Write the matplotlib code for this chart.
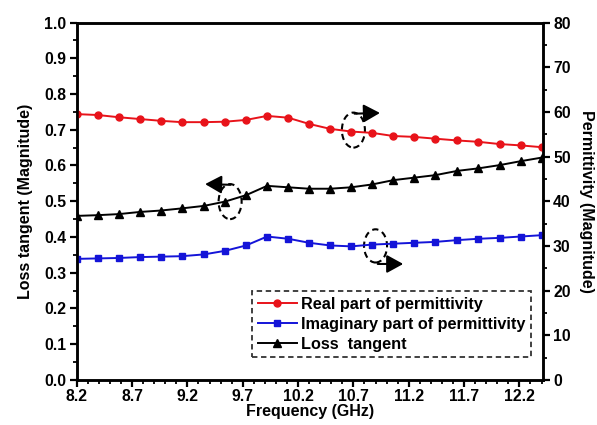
import matplotlib
matplotlib.use("Agg")
import matplotlib.pyplot as plt
from matplotlib.patches import Ellipse
from matplotlib.ticker import MultipleLocator

plt.rcParams['font.family'] = ['Liberation Sans', 'DejaVu Sans']
plt.rcParams['font.weight'] = 'bold'

# X-band sweep, 23 frequency points
freq = [8.20, 8.39, 8.58, 8.77, 8.96, 9.15, 9.35, 9.54, 9.73, 9.92, 10.11, 10.30,
        10.49, 10.68, 10.87, 11.06, 11.25, 11.44, 11.64, 11.83, 12.02, 12.21, 12.40]
real_perm = [59.5, 59.3, 58.8, 58.4, 58.0, 57.7, 57.7, 57.8, 58.2, 59.1, 58.7, 57.3,
             56.2, 55.6, 55.3, 54.6, 54.4, 54.0, 53.6, 53.3, 52.8, 52.5, 52.1]
imag_perm = [27.1, 27.2, 27.3, 27.5, 27.6, 27.7, 28.1, 28.9, 30.1, 32.1, 31.6, 30.7,
             30.1, 29.9, 30.3, 30.5, 30.7, 30.9, 31.3, 31.6, 31.8, 32.1, 32.4]
loss_tan = [0.459, 0.461, 0.464, 0.470, 0.474, 0.480, 0.487, 0.499, 0.517, 0.543, 0.539, 0.535,
            0.535, 0.539, 0.547, 0.559, 0.566, 0.573, 0.585, 0.592, 0.601, 0.612, 0.622]
xticks = [8.2, 8.7, 9.2, 9.7, 10.2, 10.7, 11.2, 11.7, 12.2]

fig = plt.figure(figsize=(5.97, 4.25), dpi=100)
ax = fig.add_axes([0.1285, 0.106, 0.7805, 0.841])
ax2 = ax.twinx()

l3, = ax.plot(freq, loss_tan, '-^', color='black', lw=1.4, ms=5.5, label='Loss  tangent')
l1, = ax2.plot(freq, real_perm, '-o', color='#e8131a', lw=1.4, ms=5, label='Real part of permittivity')
l2, = ax2.plot(freq, imag_perm, '-s', color='#1414d8', lw=1.4, ms=4.5,
               label='Imaginary part of permittivity')

ax.set_xlim(8.2, 12.41)
ax.set_ylim(0, 1.0)
ax2.set_ylim(0, 80)
ax.set_xticks(xticks)
ax.set_xticklabels([f'{v:.1f}' for v in xticks])
ax.xaxis.set_minor_locator(MultipleLocator(0.1))
ax.yaxis.set_major_locator(MultipleLocator(0.1))
ax.yaxis.set_minor_locator(MultipleLocator(0.05))
ax2.yaxis.set_major_locator(MultipleLocator(10))
ax2.yaxis.set_minor_locator(MultipleLocator(5))

for a in (ax, ax2):
    for s in a.spines.values():
        s.set_linewidth(1.8)
    a.tick_params(which='major', direction='out', length=5, width=1.6, labelsize=11.3, pad=2.5)
    a.tick_params(which='minor', direction='out', length=3, width=1.3)
ax.tick_params(axis='x', pad=1.5)

ax.set_xlabel('Frequency (GHz)', fontsize=11.5, fontweight='bold', labelpad=0)
ax.set_ylabel('Loss tangent (Magnitude)', fontsize=11.5, fontweight='bold', labelpad=8)
ax2.set_ylabel('Permittivity (Magnitude)', fontsize=11.5, fontweight='bold',
               rotation=270, labelpad=17)

# dashed ellipses with arrows marking which axis each curve belongs to
ell_kw = dict(fill=False, ls=(0, (3, 2)), lw=1.5, ec='black', zorder=5)
ax.add_patch(Ellipse((9.586, 0.499), 0.208, 0.098, **ell_kw))
ax.add_patch(Ellipse((10.70, 0.699), 0.208, 0.098, **ell_kw))
ax.add_patch(Ellipse((10.90, 0.375), 0.208, 0.093, **ell_kw))

arr_kw = dict(arrowstyle='-|>,head_length=1.0,head_width=0.55', color='black', lw=1.5,
              shrinkA=0, shrinkB=0)
ax.annotate('', xy=(9.36, 0.548), xytext=(9.59, 0.546), arrowprops=arr_kw, zorder=6)
ax.annotate('', xy=(10.94, 0.747), xytext=(10.71, 0.745), arrowprops=arr_kw, zorder=6)
ax.annotate('', xy=(11.15, 0.3245), xytext=(10.92, 0.3245), arrowprops=arr_kw, zorder=6)

leg = ax2.legend(handles=[l1, l2, l3], loc='upper left', bbox_to_anchor=(0.376, 0.248),
                 fontsize=11.7, frameon=True, fancybox=False, handlelength=2.4,
                 handletextpad=0.25, borderpad=0.35, labelspacing=0.3, borderaxespad=0)
leg.get_frame().set_edgecolor('black')
leg.get_frame().set_linestyle((0, (3, 2)))
leg.get_frame().set_linewidth(1.3)

fig.savefig('out.png', dpi=100)
